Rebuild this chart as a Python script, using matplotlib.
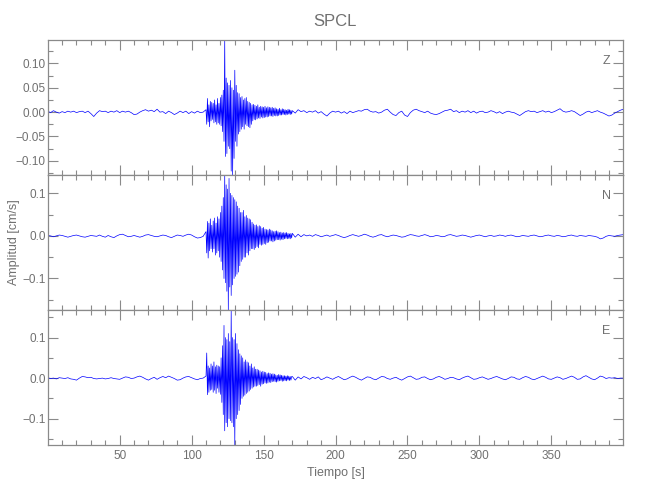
import numpy as np
import matplotlib
matplotlib.use("Agg")
import matplotlib.pyplot as plt
from matplotlib.ticker import MultipleLocator

# ---------------- data (amplitudes in units of 0.001 cm/s) ----------------
station = "SPCL"
components = ["Z", "N", "E"]

pre_time = np.arange(0, 110, 2.0)       # quiet part before the event
event_time = np.arange(110, 170, 0.5)   # strong-motion window
post_time = np.arange(170, 401, 2.0)    # coda / quiet part after

z_pre = [2, -1, 3, 0, -2, 1, -1, 2, 0, 2, -1, 1, 2, -1, 2, -3, -9, -2, 3, 1,
         2, -1, 2, 0, 3, -1, 2, 0, 2, -1, -5, -4, 0, 3, 5, 2, 4, 1, 6, 0,
         1, -3, 2, -1, -5, -2, 2, -1, 2, -3, 1, -2, 2, -1, 0]
z_event = [5, -25, 28, -20, 15, -30, 22, -18, 20, -15,
           18, -22, 25, -20, 15, -25, 28, -22, 18, -25,
           30, -28, 35, -40, 45, -60, 148, -91, 70, -85,
           60, -70, 55, -75, 65, -121, 50, -129, 45, -95,
           86, -60, 55, -70, 40, -45, 38, -40, 30, -35,
           32, -30, 25, -35, 28, -25, 30, -28, 22, -30,
           20, -32, 18, -25, 15, -18, 16, -15, 14, -16,
           12, -14, 15, -12, 10, -13, 12, -10, 11, -12,
           10, -11, 12, -10, 9, -10, 11, -9, 10, -8,
           9, -8, 10, -9, 8, -7, 9, -8, 7, -8,
           6, -7, 8, -6, 5, -6, 7, -5, 6, -5,
           5, -6, 4, -5, 6, -4, 5, -5, 4, -4]
z_post = [3, -2, 5, 1, 3, -1, 2, 0, 3, -2, 1, -4, -8, -2, 2,
          0, 2, -2, 1, -3, 2, -1, 1, 3, 2, 5, 6, 2, 0, 1,
          -2, 0, 4, 6, 0, -5, -7, -1, 2, -6, -9, -1, 4, 6, 3,
          1, -1, 2, -2, -4, -5, -3, 0, 3, 4, 6, 1, 3, -1, 2,
          0, 3, -1, 2, -2, 1, 2, -1, 0, 3, 1, -2, 1, -3, 0,
          2, 0, -1, -4, -7, -3, 1, 3, 1, 2, -1, 1, 3, 0, 2,
          -1, 1, 4, 7, 2, 0, 1, 3, 1, -3, -7, -4, 0, 2, -1,
          1, 3, 0, -2, -5, -8, -6, -2, 1, 4, 6]

n_pre = [1, 0, -2, 0, 2, 1, -1, -3, -1, 1, 2, 0, -2, -3, -1, 1, 0, -1, 2, -1,
         -3, 1, -2, -4, 0, 3, 4, 1, -2, -1, 1, -1, -3, -1, 2, 3, 1, -1, -2, 0,
         2, 1, -2, -4, -1, 2, 1, -1, 2, 4, 2, -2, -5, -4, -1]
n_event = [10, -40, 34, -52, 30, -35, 40, -30, 25, -38,
           35, -30, 42, -45, 30, -40, 45, -35, 40, -50,
           55, -60, 70, -80, 90, -100, 143, -110, 120, -130,
           110, -174, 135, -120, 100, -140, 95, -115, 90, -100,
           85, -95, 80, -90, 70, -85, 65, -70, 55, -60,
           55, -55, 60, -50, 45, -50, 48, -40, 42, -45,
           40, -35, 38, -30, 32, -30, 28, -32, 25, -28,
           26, -25, 22, -28, 24, -20, 22, -22, 18, -20,
           20, -18, 16, -20, 15, -16, 14, -15, 16, -12,
           14, -12, 12, -14, 10, -12, 11, -10, 12, -9,
           10, -9, 8, -10, 9, -8, 7, -9, 8, -7,
           7, -6, 8, -7, 6, -6, 5, -7, 6, -5]
n_post = [6, -3, 4, -2, 3, 0, 2, -1, 3, 1, -2, 0, 2, -1, 1,
          3, 1, -2, -4, -2, 1, 3, 1, -1, 1, 4, 2, -1, -3, -1,
          2, 3, 0, -2, 0, 2, 1, -1, -3, -2, 1, 3, 2, 0, -1,
          1, 3, 1, -2, -1, 1, 0, -2, -1, 2, 3, 1, -1, 0, 2,
          1, -1, -3, -1, 1, 2, 0, -2, 0, 1, -1, 0, 2, 1, -1,
          1, 2, 0, -2, -1, 1, 0, -1, 1, 2, 0, -2, -1, 1, 2,
          0, -1, 1, 0, -2, -1, 1, 2, 0, -1, 1, 0, -1, 1, 0,
          -1, -3, -7, -5, -1, 1, 0, -1, 1, 2, 3]

e_pre = [1, -1, 0, -2, 1, 0, -1, 1, -2, -3, -5, 0, 4, 3, 1, 2, -1, -2, -1, 0,
         -2, -1, 1, -1, -2, -3, 0, 3, 2, -1, 0, 3, 5, 2, -2, -5, -1, 2, -3, 1,
         4, 1, 5, 2, -1, -5, -4, 0, 3, 4, 1, -2, -4, -1, 0]
e_event = [5, 62, -41, 30, -35, 25, -30, 35, -28, 30,
           -35, 40, -30, 28, -38, 32, -25, 30, -35, 28,
           -40, 50, -60, 80, -90, 130, -130, 100, -110, 95,
           -120, 110, -100, 90, -105, 168, -110, 100, -120, 95,
           -165, 110, -100, 85, -90, 70, -80, 60, -65, 55,
           -50, 50, -45, 40, -42, 45, -38, 40, -35, 38,
           -32, 30, -28, 35, -25, 25, -22, 28, -20, 22,
           -20, 22, -18, 20, -16, 18, -20, 15, -15, 17,
           -14, 15, -12, 14, -13, 11, -12, 13, -10, 12,
           -11, 10, -9, 11, -8, 10, -9, 8, -10, 7,
           -8, 9, -7, 8, -6, 7, -8, 6, -7, 6,
           -6, 5, -7, 6, -5, 5, -6, 4, -5, 4]
e_post = [4, -5, 3, -2, 4, 1, -3, 2, -1, 3, -4, -1, 3, 0, -3,
          1, 4, 0, -4, -2, 2, 5, 2, -2, -5, -1, 3, 2, -2, -4,
          0, 4, 3, -1, -3, 0, 2, -2, -5, -1, 3, 5, 1, -3, -2,
          2, 3, -1, -4, -2, 2, 4, 1, -3, -1, 2, 1, -2, -4, 0,
          3, 5, 1, -3, -2, 1, 3, 0, -3, -1, 2, 4, 1, -2, -4,
          -1, 3, 2, -2, -3, 1, 4, 2, -2, -4, -1, 2, 5, 2, -2,
          -3, 0, 3, 1, -3, -1, 2, 5, 2, -3, -2, 3, 6, 2, -2,
          -4, 0, 5, 3, -1, 1, 0, 1, -1, 0, 0]

y_major = [0.05, 0.1, 0.1]
y_minor = [0.025, 0.05, 0.05]
x_major_ticks = [50, 100, 150, 200, 250, 300, 350]
x_minor_ticks = list(range(10, 400, 10))
x_range = (0, 400)

# ---------------- figure ----------------
plt.rcParams['font.family'] = ['Liberation Sans', 'DejaVu Sans']
gray = '#8a8a8a'
text_gray = '#707070'

fig = plt.figure(figsize=(6.5, 5.0), dpi=100)
gs = fig.add_gridspec(3, 1, left=0.0734, right=0.959, top=0.92, bottom=0.11,
                      hspace=0)

time = np.concatenate([pre_time, event_time, post_time])
traces = [(z_pre, z_event, z_post), (n_pre, n_event, n_post),
          (e_pre, e_event, e_post)]

axes = []
for i, (comp, parts) in enumerate(zip(components, traces)):
    ax = fig.add_subplot(gs[i, 0])
    axes.append(ax)
    amp = np.concatenate([np.asarray(p, float) for p in parts]) / 1000.0
    ax.plot(time, amp, color='#0000ff', lw=0.5)
    ax.set_xlim(*x_range)
    ax.set_ylim(amp.min(), amp.max())
    ax.yaxis.set_major_locator(MultipleLocator(y_major[i]))
    ax.yaxis.set_minor_locator(MultipleLocator(y_minor[i]))
    ax.set_xticks(x_major_ticks)
    ax.set_xticks(x_minor_ticks, minor=True)
    for s in ax.spines.values():
        s.set_color(gray)
        s.set_linewidth(0.9)
    ax.tick_params(which='both', direction='in', top=True, right=True,
                   color=gray, width=0.8, labelcolor=text_gray,
                   labelsize=8.5)
    ax.tick_params(which='major', length=7)
    ax.tick_params(which='minor', length=3.8)
    ax.tick_params(axis='y', pad=1.5)
    ax.tick_params(axis='x', pad=3.5)
    if i < 2:
        ax.tick_params(axis='x', labelbottom=False)
    ax.text(0.97, 0.845, comp, transform=ax.transAxes, ha='center',
            va='center', color=text_gray, fontsize=9)

axes[-1].set_xlabel('Tiempo [s]', color=text_gray, fontsize=9, labelpad=4)
fig.text(0.022, 0.515, 'Amplitud [cm/s]', rotation=90, ha='center',
         va='center', color=text_gray, fontsize=9)
fig.text(0.516, 0.957, station, ha='center', va='center', color=text_gray,
         fontsize=12)

fig.savefig('out.png', dpi=100)
